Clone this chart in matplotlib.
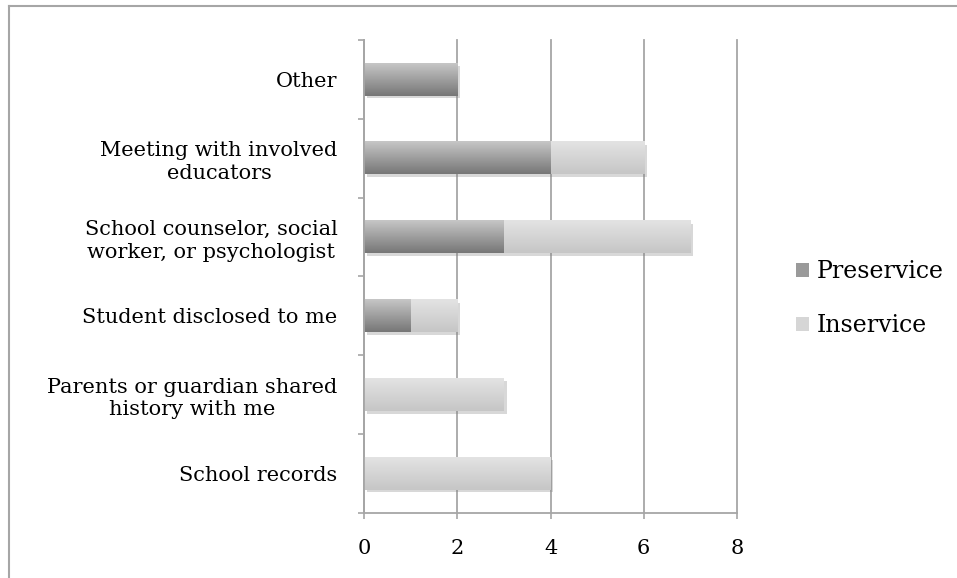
import numpy as np
import matplotlib
matplotlib.use("Agg")
import matplotlib.pyplot as plt
from matplotlib import patheffects
from matplotlib.colors import LinearSegmentedColormap
from matplotlib.lines import Line2D
from matplotlib.patches import Patch

categories = [
    "School records",
    "Parents or guardian shared\nhistory with me",
    "Student disclosed to me",
    "School counselor, social\nworker, or psychologist",
    "Meeting with involved\neducators",
    "Other",
]
preservice = [0, 0, 1, 3, 4, 2]
inservice = [4, 3, 1, 4, 2, 0]
series_names = ["Preservice", "Inservice"]
x_ticks = [0, 2, 4, 6, 8]

plt.rcParams["font.family"] = ["DejaVu Serif"]
grey = "#a6a6a6"
fs = 15

fig = plt.figure(figsize=(9.57, 5.78), dpi=100)
ax = fig.add_axes([0.3804, 0.1125, 0.3897, 0.8183])

y = np.arange(len(categories))
bar_h = 0.41
shadow = [patheffects.SimplePatchShadow(offset=(2, -2), shadow_rgbFace="#808080", alpha=0.3),
          patheffects.Normal()]

dark = LinearSegmentedColormap.from_list("dark", ["#777777", "#c6c6c6"])
light = LinearSegmentedColormap.from_list("light", ["#c6c6c6", "#e3e3e3"])

bars_p = ax.barh(y, preservice, height=bar_h, color="#9a9a9a", zorder=3, linewidth=0)
bars_i = ax.barh(y, inservice, left=preservice, height=bar_h, color="#d4d4d4", zorder=3, linewidth=0)

grad = np.linspace(0, 1, 64).reshape(-1, 1)
for bars, cmap in [(bars_p, dark), (bars_i, light)]:
    for b in bars:
        w = b.get_width()
        if w <= 0:
            continue
        b.set_path_effects(shadow)
        x0, y0, h = b.get_x(), b.get_y(), b.get_height()
        ax.imshow(grad, extent=[x0, x0 + w, y0, y0 + h], origin="lower",
                  aspect="auto", cmap=cmap, zorder=4, interpolation="bilinear")

ax.set_xlim(0, 8)
ax.set_ylim(-0.5, len(categories) - 0.5)
ax.set_aspect("auto")

ax.set_xticks(x_ticks)
ax.set_xticklabels([str(t) for t in x_ticks], fontsize=fs)
ax.set_yticks(y)
ax.set_yticklabels(categories, fontsize=fs, multialignment="center", linespacing=1.25)
ax.set_yticks(np.arange(len(categories) + 1) - 0.5, minor=True)

ax.tick_params(axis="y", which="major", length=0, pad=19)
ax.tick_params(axis="y", which="minor", length=4.5, width=1.2, color=grey, direction="out")
ax.tick_params(axis="x", which="major", length=4, width=1.2, color=grey, direction="out", pad=15)

ax.grid(axis="x", color=grey, linewidth=1.3, zorder=0)
ax.set_axisbelow(True)
for gl in ax.xaxis.get_gridlines():
    gl.set_clip_on(False)
for s in ["top", "right"]:
    ax.spines[s].set_visible(False)
for s in ["left", "bottom"]:
    ax.spines[s].set_color(grey)
    ax.spines[s].set_linewidth(1.3)
    ax.spines[s].set_zorder(5)

handles = [Patch(facecolor="#9a9a9a", edgecolor="none"),
           Patch(facecolor="#d6d6d6", edgecolor="none")]
fig.legend(handles, series_names, loc="center left", bbox_to_anchor=(0.81, 0.483),
           frameon=False, fontsize=17, handlelength=0.55, handleheight=0.55,
           handletextpad=0.3, labelspacing=1.3)

# outer chart frame (top and left edges visible)
fig.add_artist(Line2D([0.0099, 0.0099], [0.0, 0.9896], transform=fig.transFigure, color=grey, lw=1.5))
fig.add_artist(Line2D([0.0094, 0.999], [0.9896, 0.9896], transform=fig.transFigure, color=grey, lw=1.5))

fig.savefig("out.png", dpi=100)
